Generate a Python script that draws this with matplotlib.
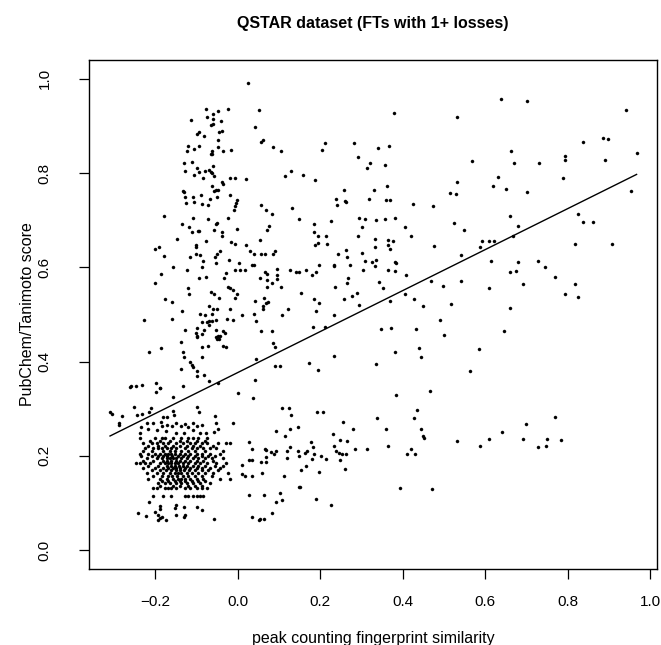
import matplotlib
matplotlib.use("Agg")
import matplotlib.pyplot as plt

plt.rcParams['font.family'] = ['Liberation Sans', 'DejaVu Sans']

title = "QSTAR dataset (FTs with 1+ losses)"
xlabel = "peak counting fingerprint similarity"
ylabel = "PubChem/Tanimoto score"
xticks = [-0.2, 0.0, 0.2, 0.4, 0.6, 0.8, 1.0]
xtick_labels = ["\u22120.2", "0.0", "0.2", "0.4", "0.6", "0.8", "1.0"]
yticks = [0.0, 0.2, 0.4, 0.6, 0.8, 1.0]
ytick_labels = ["0.0", "0.2", "0.4", "0.6", "0.8", "1.0"]

# regression line (lm fit) drawn over the data range
fit_intercept = 0.377
fit_slope = 0.4348
fit_x_range = [-0.310, 0.9665]

upper_left = [(0.025,0.991),(-0.078,0.936),(-0.023,0.935),(-0.048,0.931),(-0.060,0.925),(-0.075,0.919),(-0.060,0.915),(-0.113,0.912),(-0.042,0.911),(-0.060,0.905),(-0.065,0.903),(0.042,0.898),(0.052,0.934),(-0.038,0.890),(-0.046,0.887),(-0.094,0.888),(-0.098,0.883),(-0.082,0.878),(-0.049,0.871),(-0.121,0.858),(-0.095,0.857),(-0.106,0.852),(-0.048,0.856),(-0.063,0.846),(-0.124,0.846),(-0.035,0.847),(-0.017,0.848),(-0.065,0.840),(-0.062,0.840),(-0.131,0.821),(-0.112,0.823),(-0.060,0.816),(-0.100,0.811),(-0.128,0.804),(-0.095,0.802),(-0.080,0.804),(-0.071,0.807),(-0.063,0.800),(-0.066,0.802),(-0.106,0.797),(-0.085,0.789),(-0.057,0.794),(-0.020,0.790),(-0.008,0.789),(0.020,0.787),(-0.039,0.781),(-0.036,0.776),(-0.063,0.773),(-0.059,0.763),(-0.054,0.764),(-0.049,0.764),(-0.133,0.763),(-0.130,0.760),(-0.019,0.754),(-0.090,0.754),(-0.110,0.749),(-0.128,0.749),(-0.068,0.745),(-0.050,0.749),(-0.002,0.742),(-0.005,0.737),(-0.126,0.737),(-0.106,0.738),(-0.086,0.734),(-0.073,0.733),(-0.008,0.731),(-0.010,0.721),(-0.180,0.709),(-0.108,0.705),(-0.073,0.703),(-0.023,0.705),(-0.050,0.695),(-0.053,0.693),(-0.135,0.692),(-0.119,0.686),(-0.097,0.678),(-0.094,0.678),(-0.111,0.675),(-0.058,0.680),(-0.002,0.682),(-0.038,0.674),(-0.038,0.667),(-0.147,0.661),(0.054,0.658)]

upper_mid = [(0.378,0.928),(0.532,0.919),(0.060,0.871),(0.055,0.865),(0.086,0.856),(0.104,0.846),(0.212,0.864),(0.205,0.849),(0.281,0.864),(0.366,0.858),(0.339,0.853),(0.292,0.835),(0.321,0.822),(0.314,0.811),(0.356,0.818),(0.129,0.805),(0.113,0.793),(0.158,0.795),(0.188,0.786),(0.530,0.781),(0.361,0.773),(0.258,0.765),(0.331,0.765),(0.513,0.758),(0.528,0.756),(0.057,0.733),(0.239,0.746),(0.259,0.741),(0.262,0.738),(0.240,0.733),(0.318,0.745),(0.360,0.743),(0.368,0.743),(0.424,0.734),(0.473,0.731),(0.069,0.722),(0.083,0.713),(0.132,0.726),(0.149,0.703),(0.226,0.698),(0.293,0.704),(0.309,0.703),(0.335,0.700),(0.357,0.703),(0.382,0.704),(0.523,0.695),(0.075,0.688),(0.070,0.680),(0.185,0.693),(0.184,0.675),(0.300,0.685),(0.404,0.685),(0.195,0.667),(0.214,0.667),(0.291,0.667),(0.420,0.667),(0.333,0.660),(0.363,0.659)]

upper_right = [(0.638,0.958),(0.701,0.952),(0.941,0.933),(0.836,0.867),(0.886,0.874),(0.897,0.873),(0.662,0.846),(0.967,0.843),(0.567,0.826),(0.670,0.821),(0.730,0.822),(0.792,0.837),(0.794,0.828),(0.890,0.828),(0.631,0.792),(0.789,0.789),(0.618,0.772),(0.650,0.766),(0.701,0.760),(0.953,0.763),(0.825,0.714),(0.660,0.708),(0.837,0.697),(0.861,0.697),(0.678,0.688),(0.548,0.679),(0.666,0.667)]

mid_left = [(-0.078,0.655),(-0.102,0.647),(-0.102,0.643),(-0.192,0.643),(-0.202,0.640),(-0.016,0.654),(-0.008,0.650),(0.020,0.647),(-0.044,0.635),(-0.050,0.629),(-0.056,0.622),(-0.092,0.626),(-0.102,0.628),(-0.116,0.622),(-0.084,0.613),(-0.021,0.616),(0.030,0.634),(-0.179,0.624),(-0.053,0.610),(0.002,0.609),(0.040,0.628),(0.033,0.605),(0.040,0.605),(-0.158,0.600),(-0.086,0.601),(-0.124,0.595),(-0.007,0.594),(0.005,0.594),(0.017,0.594),(-0.029,0.589),(-0.187,0.585),(-0.078,0.580),(-0.095,0.578),(-0.034,0.578),(-0.200,0.566),(-0.023,0.559),(-0.018,0.556),(-0.012,0.552),(-0.120,0.557),(-0.065,0.547),(-0.059,0.543),(-0.119,0.543),(-0.047,0.536),(-0.001,0.543),(-0.008,0.534),(-0.177,0.532),(-0.159,0.527),(0.041,0.528),(-0.069,0.519),(-0.061,0.512),(-0.051,0.512),(-0.018,0.512),(-0.136,0.508),(-0.092,0.501),(-0.079,0.500),(-0.062,0.502),(0.010,0.500),(0.040,0.501),(-0.227,0.489),(-0.160,0.490),(-0.027,0.491),(-0.012,0.489),(0.045,0.487),(-0.086,0.484),(-0.076,0.484),(-0.069,0.487),(-0.062,0.487),(-0.052,0.489),(-0.100,0.471),(-0.083,0.468),(-0.071,0.478),(-0.053,0.468),(-0.129,0.467),(-0.035,0.465),(-0.031,0.461),(-0.102,0.461),(-0.098,0.455),(-0.100,0.452),(-0.088,0.458),(-0.052,0.452),(-0.045,0.449),(-0.048,0.454),(-0.043,0.455),(-0.051,0.448),(-0.139,0.441),(-0.073,0.433),(-0.035,0.434),(-0.029,0.431),(-0.186,0.429),(-0.086,0.431),(-0.216,0.420),(-0.132,0.421),(-0.130,0.409),(-0.086,0.409),(0.044,0.405),(-0.117,0.399),(-0.112,0.392),(-0.108,0.389),(-0.138,0.385),(-0.100,0.380),(-0.100,0.369),(-0.081,0.371),(0.041,0.362),(-0.259,0.349),(-0.262,0.347),(-0.246,0.348),(-0.232,0.350),(-0.199,0.354),(-0.190,0.343),(-0.188,0.345),(-0.198,0.336),(-0.132,0.349),(-0.071,0.359),(-0.049,0.355),(0.001,0.333),(0.037,0.322),(-0.158,0.325),(-0.252,0.304),(-0.282,0.285),(-0.310,0.293),(-0.306,0.289),(-0.245,0.287),(-0.232,0.288),(-0.216,0.293),(-0.210,0.302),(-0.158,0.296),(-0.156,0.287),(-0.100,0.303),(-0.094,0.293),(-0.055,0.285),(-0.173,0.283),(-0.182,0.283)]

mid_mid = [(0.188,0.647),(0.195,0.652),(0.216,0.649),(0.332,0.643),(0.363,0.647),(0.375,0.655),(0.368,0.639),(0.475,0.645),(0.261,0.636),(0.242,0.629),(0.265,0.621),(0.301,0.631),(0.057,0.628),(0.066,0.628),(0.085,0.628),(0.090,0.634),(0.324,0.611),(0.335,0.615),(0.309,0.614),(0.380,0.612),(0.383,0.609),(0.271,0.606),(0.232,0.605),(0.234,0.602),(0.197,0.605),(0.332,0.602),(0.095,0.596),(0.127,0.594),(0.140,0.591),(0.148,0.591),(0.165,0.594),(0.189,0.591),(0.179,0.583),(0.304,0.594),(0.365,0.595),(0.382,0.593),(0.065,0.590),(0.071,0.585),(0.094,0.584),(0.053,0.577),(0.070,0.574),(0.082,0.567),(0.094,0.576),(0.104,0.558),(0.071,0.559),(0.267,0.578),(0.265,0.567),(0.236,0.559),(0.342,0.569),(0.351,0.557),(0.408,0.583),(0.468,0.571),(0.496,0.561),(0.153,0.546),(0.289,0.546),(0.276,0.539),(0.258,0.533),(0.184,0.533),(0.196,0.524),(0.063,0.536),(0.074,0.526),(0.067,0.525),(0.060,0.517),(0.060,0.512),(0.293,0.521),(0.368,0.529),(0.405,0.543),(0.427,0.532),(0.449,0.517),(0.516,0.523),(0.122,0.511),(0.189,0.508),(0.108,0.500),(0.234,0.500),(0.490,0.489),(0.182,0.474),(0.212,0.474),(0.348,0.470),(0.370,0.472),(0.431,0.470),(0.499,0.456),(0.057,0.464),(0.083,0.464),(0.086,0.439),(0.091,0.431),(0.380,0.421),(0.440,0.429),(0.444,0.409),(0.233,0.411),(0.090,0.391),(0.103,0.391),(0.173,0.398),(0.195,0.382),(0.334,0.394),(0.384,0.330),(0.466,0.337),(0.108,0.302),(0.125,0.301),(0.129,0.286),(0.191,0.294),(0.206,0.294),(0.337,0.280),(0.427,0.280),(0.435,0.297)]

mid_right = [(0.592,0.655),(0.609,0.655),(0.622,0.655),(0.587,0.643),(0.818,0.650),(0.908,0.650),(0.541,0.627),(0.614,0.613),(0.678,0.611),(0.727,0.613),(0.744,0.600),(0.660,0.590),(0.675,0.593),(0.769,0.579),(0.542,0.572),(0.692,0.564),(0.818,0.564),(0.608,0.556),(0.792,0.543),(0.825,0.537),(0.659,0.513),(0.646,0.465),(0.585,0.426),(0.562,0.381),(0.769,0.282)]

low_left_outer = [(-0.289,0.270),(-0.289,0.265),(-0.235,0.262),(-0.237,0.248),(-0.220,0.270),(-0.205,0.270),(-0.187,0.271),(-0.185,0.263),(-0.173,0.265),(-0.159,0.263),(-0.149,0.269),(-0.138,0.263),(-0.128,0.267),(-0.120,0.262),(-0.110,0.269),(-0.100,0.263),(-0.086,0.265),(-0.053,0.270),(-0.011,0.269),(-0.219,0.256),(-0.197,0.255),(-0.175,0.253),(-0.149,0.248),(-0.131,0.249),(-0.108,0.255),(-0.092,0.248),(-0.078,0.249),(-0.048,0.256),(-0.058,0.251),(0.026,0.230),(0.033,0.214),(0.026,0.192),(0.034,0.191),(0.009,0.180),(0.010,0.161),(0.017,0.157),(0.035,0.157),(0.052,0.065),(0.034,0.071),(0.027,0.118),(-0.058,0.067),(-0.215,0.103),(-0.189,0.094),(-0.190,0.087),(-0.149,0.096),(-0.153,0.089),(-0.130,0.091),(-0.100,0.091),(-0.088,0.085),(-0.242,0.078),(-0.223,0.073),(-0.201,0.082),(-0.193,0.075),(-0.190,0.068),(-0.193,0.065),(-0.183,0.071),(-0.175,0.065),(-0.149,0.075),(-0.130,0.071),(-0.128,0.075)]

# dense cluster, read row by row: (y, [x values])
cluster_rows = [
    (0.237, [-0.238, -0.201, -0.185, -0.177, -0.157, -0.137, -0.120, -0.108, -0.096, -0.076]),
    (0.232, [-0.213, -0.189, -0.165, -0.141, -0.124, -0.100, -0.080]),
    (0.227, [-0.229, -0.209, -0.197, -0.181, -0.169, -0.149, -0.133, -0.116, -0.104, -0.088, -0.076, -0.048, -0.028, -0.020]),
    (0.221, [-0.217, -0.193, -0.177, -0.157, -0.141, -0.124, -0.108, -0.092, -0.060]),
    (0.216, [-0.225, -0.205, -0.193, -0.185, -0.173, -0.161, -0.149, -0.128, -0.112, -0.100, -0.084, -0.068, -0.052]),
    (0.211, [-0.229, -0.209, -0.181, -0.165, -0.153, -0.137, -0.120, -0.104, -0.080, -0.036]),
    (0.205, [-0.238, -0.217, -0.201, -0.189, -0.177, -0.169, -0.161, -0.153, -0.141, -0.128, -0.116, -0.100, -0.088, -0.068, -0.044]),
    (0.200, [-0.234, -0.209, -0.193, -0.181, -0.171, -0.159, -0.145, -0.133, -0.120, -0.104, -0.088, -0.072, -0.056]),
    (0.195, [-0.221, -0.197, -0.185, -0.173, -0.165, -0.157, -0.149, -0.137, -0.124, -0.108, -0.096, -0.080, -0.064, -0.036]),
    (0.190, [-0.229, -0.205, -0.181, -0.171, -0.161, -0.151, -0.141, -0.128, -0.116, -0.100, -0.084, -0.060]),
    (0.184, [-0.246, -0.238, -0.225, -0.213, -0.189, -0.177, -0.169, -0.161, -0.153, -0.145, -0.133, -0.120, -0.104, -0.092, -0.076, -0.052, -0.028]),
    (0.179, [-0.217, -0.193, -0.173, -0.163, -0.153, -0.143, -0.133, -0.123, -0.110, -0.096, -0.080, -0.056, -0.036]),
    (0.174, [-0.229, -0.201, -0.181, -0.169, -0.157, -0.149, -0.141, -0.128, -0.116, -0.100, -0.088, -0.068, -0.044]),
    (0.169, [-0.209, -0.189, -0.175, -0.161, -0.151, -0.141, -0.131, -0.118, -0.104, -0.088, -0.072, -0.048]),
    (0.163, [-0.221, -0.197, -0.181, -0.165, -0.153, -0.145, -0.137, -0.124, -0.112, -0.096, -0.080, -0.060, -0.024]),
    (0.158, [-0.205, -0.185, -0.169, -0.159, -0.148, -0.134, -0.120, -0.104, -0.088, -0.064]),
    (0.152, [-0.217, -0.189, -0.173, -0.157, -0.145, -0.137, -0.128, -0.116, -0.100, -0.084, -0.044, -0.020]),
    (0.147, [-0.185, -0.169, -0.153, -0.141, -0.128, -0.112, -0.096, -0.080]),
    (0.142, [-0.193, -0.177, -0.165, -0.149, -0.137, -0.124, -0.108, -0.092, -0.068]),
    (0.137, [-0.189, -0.157, -0.141, -0.120, -0.104, -0.088]),
    (0.131, [-0.205, -0.197, -0.177, -0.169, -0.161, -0.149, -0.128, -0.116, -0.100, -0.088, -0.076]),
    (0.114, [-0.205, -0.181, -0.161, -0.128, -0.120, -0.108, -0.100, -0.092, -0.084]),
]

low_mid = [(0.255,0.272),(0.146,0.262),(0.127,0.256),(0.093,0.253),(0.113,0.243),(0.360,0.258),(0.444,0.258),(0.448,0.243),(0.452,0.239),(0.230,0.247),(0.279,0.257),(0.530,0.231),(0.065,0.215),(0.069,0.213),(0.081,0.209),(0.087,0.205),(0.093,0.210),(0.127,0.219),(0.120,0.210),(0.145,0.210),(0.162,0.206),(0.167,0.210),(0.178,0.229),(0.183,0.218),(0.185,0.205),(0.149,0.200),(0.201,0.200),(0.180,0.193),(0.213,0.193),(0.120,0.195),(0.068,0.198),(0.067,0.188),(0.057,0.186),(0.059,0.163),(0.165,0.178),(0.154,0.170),(0.197,0.165),(0.111,0.157),(0.233,0.222),(0.238,0.210),(0.244,0.207),(0.248,0.234),(0.265,0.231),(0.253,0.205),(0.262,0.204),(0.248,0.192),(0.260,0.172),(0.283,0.214),(0.313,0.215),(0.365,0.220),(0.411,0.205),(0.419,0.214),(0.430,0.205),(0.147,0.133),(0.151,0.135),(0.103,0.121),(0.064,0.117),(0.093,0.102),(0.108,0.106),(0.189,0.108),(0.226,0.095),(0.082,0.078),(0.064,0.067),(0.054,0.066),(0.393,0.132),(0.471,0.129)]

low_right = [(0.699,0.268),(0.641,0.250),(0.586,0.222),(0.608,0.235),(0.691,0.235),(0.750,0.235),(0.727,0.219),(0.746,0.222),(0.783,0.233)]

xs, ys = [], []
for group in (upper_left, upper_mid, upper_right, mid_left, mid_mid, mid_right,
              low_left_outer, low_mid, low_right):
    for px, py in group:
        xs.append(px)
        ys.append(py)
for ry, rxs in cluster_rows:
    for rx in rxs:
        xs.append(rx)
        ys.append(ry)

fig = plt.figure(figsize=(6.61, 6.45), dpi=100)
ax = fig.add_axes([89/661, 76/645, 568/661, 509/645])
ax.plot(xs, ys, linestyle='none', marker='o', markersize=2.2,
        markerfacecolor='black', markeredgecolor='black', markeredgewidth=0.3)
lx = fit_x_range
ly = [fit_intercept + fit_slope * v for v in lx]
ax.plot(lx, ly, color='black', linewidth=1.0)

ax.set_xlim(-0.361, 1.016)
ax.set_ylim(-0.04, 1.04)
ax.set_xticks(xticks)
ax.set_xticklabels(xtick_labels)
ax.set_yticks(yticks)
ax.set_yticklabels(ytick_labels, rotation=90, va='center')
ax.tick_params(direction='out', length=7, width=0.9, labelsize=11)
ax.tick_params(axis='x', pad=11.5)
ax.tick_params(axis='y', pad=20)
for s in ax.spines.values():
    s.set_linewidth(1.0)

ax.set_title(title, fontsize=11.5, fontweight='bold', pad=23)
ax.set_xlabel(xlabel, fontsize=11.5, labelpad=16)
ax.set_ylabel(ylabel, fontsize=11.5, labelpad=2)

fig.savefig("out.png", dpi=100)
